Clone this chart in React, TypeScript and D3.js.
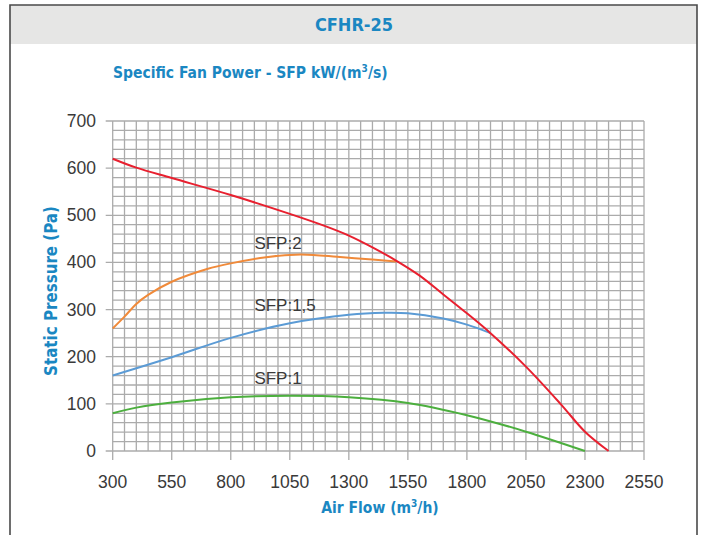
import React, { useEffect, useRef } from 'react';
import * as d3 from 'd3';

// tick values
const xTicks = [300, 550, 800, 1050, 1300, 1550, 1800, 2050, 2300, 2550];
const yTicks = [0, 100, 200, 300, 400, 500, 600, 700];

// curves: [air flow m3/h, static pressure Pa]
const fanCurve: [number, number][] = [
  [300, 620], [400, 601], [550, 579], [800, 543], [1050, 503], [1200, 477], [1300, 457],
  [1400, 432], [1500, 404], [1600, 372], [1700, 332], [1800, 292], [1900, 250], [2050, 179],
  [2200, 98], [2300, 41], [2400, 0],
];
const sfp2: [number, number][] = [
  [300, 260], [350, 285], [400, 312], [450, 331], [550, 359], [700, 386],
  [800, 398], [950, 411], [1050, 416], [1150, 416], [1250, 412], [1400, 406], [1500, 402],
];
const sfp15: [number, number][] = [
  [300, 160], [550, 199], [800, 240], [1050, 271], [1300, 289], [1450, 293],
  [1550, 292], [1700, 281], [1800, 268], [1900, 250],
];
const sfp1: [number, number][] = [
  [300, 80], [400, 92], [550, 103], [800, 114], [1050, 117], [1300, 114],
  [1550, 102], [1800, 76], [2050, 41], [2300, 0],
];

const curveLabels = [
  { text: 'SFP:2', x: 900, y: 428 },
  { text: 'SFP:1,5', x: 900, y: 298 },
  { text: 'SFP:1', x: 900, y: 142 },
];

const series = [
  { data: sfp1, color: '#4caf3e' },
  { data: sfp15, color: '#5b9bd5' },
  { data: sfp2, color: '#f08a3a' },
  { data: fanCurve, color: '#e8202f' },
];

const blue = '#1a87c2';
const width = 702;
const height = 535;

function App() {
  const svgRef = useRef<SVGSVGElement>(null);

  useEffect(() => {
    const svg = d3.select(svgRef.current);
    svg.selectAll('*').remove();

    const xScale = d3.scaleLinear().domain([300, 2550]).range([112.7, 644]);
    const yScale = d3.scaleLinear().domain([0, 700]).range([451, 121]);

    // frame
    svg.append('rect').attr('x', 10).attr('y', 5).attr('width', 687).attr('height', 39).attr('fill', '#e6e6e5');
    svg.append('path')
      .attr('d', 'M10,540 V5 H697 V540')
      .attr('fill', 'none').attr('stroke', '#4a4a4a').attr('stroke-width', 1.6);

    svg.append('text').attr('x', 354).attr('y', 31).attr('text-anchor', 'middle')
      .attr('font-family', 'DejaVu Sans Condensed').attr('font-weight', 'bold').attr('font-size', 18)
      .attr('fill', blue).text('CFHR-25');

    svg.append('text').attr('x', 113).attr('y', 78)
      .attr('font-family', 'DejaVu Sans Condensed').attr('font-weight', 'bold').attr('font-size', 15.5)
      .attr('fill', blue)
      .call(t => {
        t.append('tspan').text('Specific Fan Power - SFP kW/(m');
        t.append('tspan').attr('font-size', 10).attr('dy', -6).text('3');
        t.append('tspan').attr('dy', 6).text('/s)');
      });

    // grid
    const grid = svg.append('g').attr('stroke', '#ababab').attr('stroke-width', 1.3);
    grid.selectAll('.vx').data(d3.range(300, 2551, 50)).join('line')
      .attr('x1', d => xScale(d)).attr('x2', d => xScale(d))
      .attr('y1', yScale(700)).attr('y2', d => (d - 300) % 250 === 0 ? yScale(0) + 9 : yScale(0));
    grid.selectAll('.hy').data(d3.range(0, 701, 20)).join('line')
      .attr('y1', d => yScale(d)).attr('y2', d => yScale(d))
      .attr('x1', d => d % 100 === 0 ? xScale(300) - 7 : xScale(300)).attr('x2', xScale(2550));

    // tick labels
    svg.append('g').selectAll('text').data(xTicks).join('text')
      .attr('x', d => xScale(d)).attr('y', 488).attr('text-anchor', 'middle')
      .attr('font-family', 'Liberation Sans').attr('font-size', 17.5).attr('fill', '#3a3a3a')
      .text(d => d);
    svg.append('g').selectAll('text').data(yTicks).join('text')
      .attr('x', 96).attr('y', d => yScale(d) + 6).attr('text-anchor', 'end')
      .attr('font-family', 'Liberation Sans').attr('font-size', 17.5).attr('fill', '#3a3a3a')
      .text(d => d);

    // axis titles
    svg.append('text').attr('x', 380).attr('y', 513).attr('text-anchor', 'middle')
      .attr('font-family', 'DejaVu Sans Condensed').attr('font-weight', 'bold').attr('font-size', 15.5)
      .attr('fill', blue)
      .call(t => {
        t.append('tspan').text('Air Flow (m');
        t.append('tspan').attr('font-size', 10).attr('dy', -6).text('3');
        t.append('tspan').attr('dy', 6).text('/h)');
      });
    svg.append('text').attr('transform', 'translate(57,291) rotate(-90)').attr('text-anchor', 'middle')
      .attr('font-family', 'DejaVu Sans Condensed').attr('font-weight', 'bold').attr('font-size', 16.8)
      .attr('fill', blue).text('Static Pressure (Pa)');

    // curves
    const line = d3.line<[number, number]>()
      .x(d => xScale(d[0])).y(d => yScale(d[1]))
      .curve(d3.curveCatmullRom.alpha(0.5));
    svg.append('g').selectAll('path').data(series).join('path')
      .attr('d', d => line(d.data))
      .attr('fill', 'none').attr('stroke', d => d.color).attr('stroke-width', 2);

    svg.append('g').selectAll('text').data(curveLabels).join('text')
      .attr('x', d => xScale(d.x)).attr('y', d => yScale(d.y))
      .attr('font-family', 'Liberation Sans').attr('font-size', 17).attr('fill', '#3a3a3a')
      .text(d => d.text);
  }, []);

  return (
    <svg ref={svgRef} width={width} height={height}
      style={{ position: 'absolute', left: 0, top: 0, background: '#fff' }} />
  );
}

export default App;
